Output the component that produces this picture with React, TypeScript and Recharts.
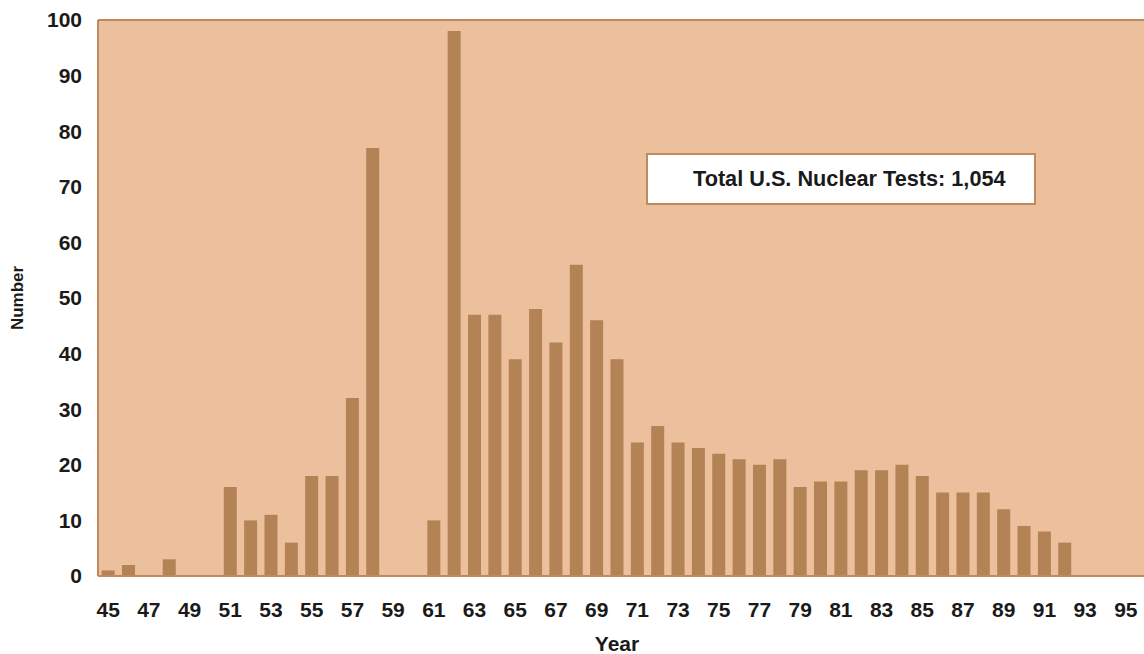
import { BarChart, Bar, XAxis, YAxis, CartesianGrid, ReferenceLine, Label } from "recharts";

const years = [
  "45", "46", "47", "48", "49", "50", "51", "52", "53", "54",
  "55", "56", "57", "58", "59", "60", "61", "62", "63", "64",
  "65", "66", "67", "68", "69", "70", "71", "72", "73", "74",
  "75", "76", "77", "78", "79", "80", "81", "82", "83", "84",
  "85", "86", "87", "88", "89", "90", "91", "92", "93", "94", "95",
];

const tests = [
  1, 2, 0, 3, 0, 0, 16, 10, 11, 6,
  18, 18, 32, 77, 0, 0, 10, 98, 47, 47,
  39, 48, 42, 56, 46, 39, 24, 27, 24, 23,
  22, 21, 20, 21, 16, 17, 17, 19, 19, 20,
  18, 15, 15, 15, 12, 9, 8, 6, 0, 0, 0,
];

const yTicks = [0, 10, 20, 30, 40, 50, 60, 70, 80, 90, 100];

const data = years.map((year, i) => ({ year, tests: tests[i] }));

const FONT = "'Liberation Sans', Arial, Helvetica, sans-serif";
const BG = "#ECC09C";
const BAR = "#B38255";
const EDGE = "#BE8A5E";

export default function App() {
  return (
    <div style={{ position: "absolute", left: 0, top: 0, width: 1144, height: 654, fontFamily: FONT, overflow: "hidden" }}>
      <BarChart
        width={1144}
        height={654}
        data={data}
        margin={{ top: 20, right: 0, bottom: 18, left: 0 }}
        barCategoryGap="18%"
      >
        <CartesianGrid fill={BG} stroke="none" vertical={false} horizontal={false} />
        <ReferenceLine y={100} stroke={EDGE} strokeWidth={2} ifOverflow="extendDomain" />
        <XAxis
          dataKey="year"
          interval={1}
          height={60}
          padding={{ left: 0, right: 8 }}
          tickLine={false}
          tickSize={0}
          tickMargin={26}
          axisLine={{ stroke: EDGE, strokeWidth: 2 }}
          tick={{ fill: "#1a1a1a", fontSize: 21, fontWeight: 700, fontFamily: FONT }}
        >
          <Label
            content={(props: any) => {
              const vb = props.viewBox || {};
              return (
                <text
                  x={vb.x + vb.width / 2 - 4}
                  y={651}
                  textAnchor="middle"
                  fill="#1a1a1a"
                  fontSize={21}
                  fontWeight={700}
                  fontFamily={FONT}
                >
                  Year
                </text>
              );
            }}
          />
        </XAxis>
        <YAxis
          width={98}
          domain={[0, 100]}
          ticks={yTicks}
          allowDataOverflow
          tickLine={false}
          tickSize={0}
          tickMargin={16}
          axisLine={{ stroke: EDGE, strokeWidth: 2 }}
          tick={{ fill: "#1a1a1a", fontSize: 21, fontWeight: 700, fontFamily: FONT }}
        >
          <Label
            content={(props: any) => {
              const vb = props.viewBox || {};
              const cy = vb.y + vb.height / 2;
              return (
                <text
                  x={17}
                  y={cy}
                  transform={`rotate(-90, 17, ${cy})`}
                  textAnchor="middle"
                  dominantBaseline="central"
                  fill="#1a1a1a"
                  fontSize={17}
                  fontWeight={700}
                  fontFamily={FONT}
                >
                  Number
                </text>
              );
            }}
          />
        </YAxis>
        <Bar dataKey="tests" fill={BAR} isAnimationActive={false} />
      </BarChart>
      <div
        style={{
          position: "absolute",
          left: 646,
          top: 153,
          width: 386,
          height: 48,
          background: "#ffffff",
          border: `2px solid ${EDGE}`,
          display: "flex",
          alignItems: "center",
          boxSizing: "content-box",
        }}
      >
        <span
          style={{
            marginLeft: 45,
            fontSize: 21.7,
            fontWeight: 700,
            color: "#1a1a1a",
            fontFamily: FONT,
            whiteSpace: "nowrap",
          }}
        >
          Total U.S. Nuclear Tests: 1,054
        </span>
      </div>
    </div>
  );
}
